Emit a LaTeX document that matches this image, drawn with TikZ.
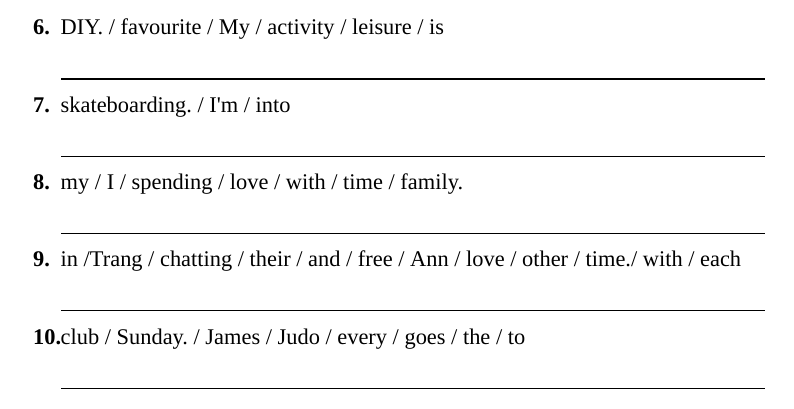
\documentclass[tikz,border=0pt]{standalone}
\usepackage{fontspec}
\setmainfont{Liberation Serif}[Ligatures=TeXOff]
\frenchspacing
\begin{document}
\begin{tikzpicture}[x=1pt,y=-1pt,
  num/.style={anchor=base west,inner sep=0pt,font=\fontsize{22.4}{27}\selectfont\bfseries},
  txt/.style={anchor=base west,inner sep=0pt,font=\fontsize{22.4}{27}\selectfont},
  rule/.style={line width=1.1pt}]
\useasboundingbox (0,0) rectangle (794,409);
\foreach \n/\t/\y [count=\i] in {6./{DIY. / favourite / My / activity / leisure / is}/35,
  7./{skateboarding. / I'm / into}/112.3,
  8./{my / I / spending / love / with / time / family.}/189.6,
  9./{in /Trang / chatting / their / and / free / Ann / love / other / time./ with / each}/266.9,
  10./{club / Sunday. / James / Judo / every / goes / the / to}/344.2} {
  \node[num] (n\i) at (33,\y) {\n};
  \node[txt] (t\i) at (60.5,\y) {\t};
  \coordinate (a\i) at (61,\y+44);
  \coordinate (b\i) at (765,\y+44);
  \draw[rule] (a\i) -- (b\i);
}
\end{tikzpicture}
\end{document}
